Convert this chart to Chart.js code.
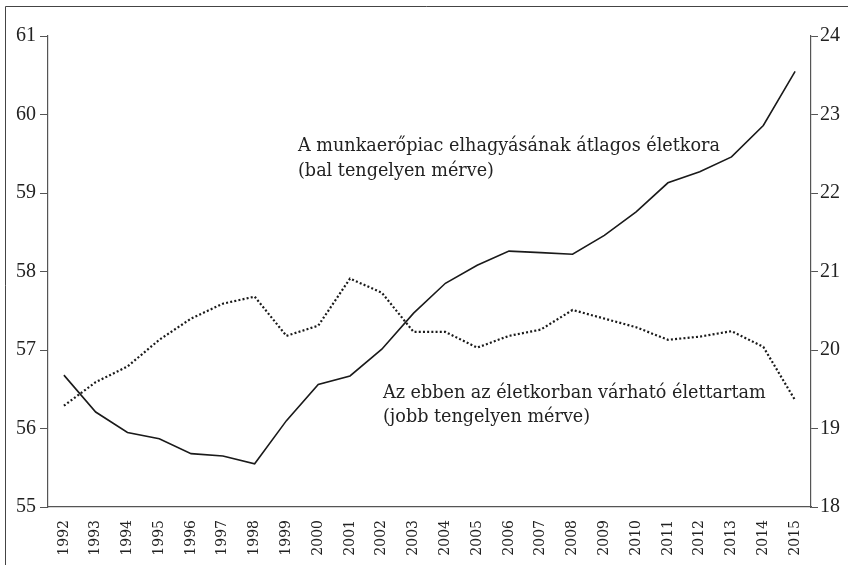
<!DOCTYPE html>
<html>
<head>
<meta charset="utf-8">
<script src="https://cdn.jsdelivr.net/npm/chart.js@4"></script>
<style>
  html, body { margin: 0; padding: 0; background: #fff; }
  canvas { display: block; }
</style>
</head>
<body>
<canvas id="chart" width="848" height="565"></canvas>
<script>
const years = ["1992", "1993", "1994", "1995", "1996", "1997", "1998", "1999", "2000", "2001", "2002", "2003",
  "2004", "2005", "2006", "2007", "2008", "2009", "2010", "2011", "2012", "2013", "2014", "2015"];

// átlagos életkor a munkaerőpiac elhagyásakor (bal tengely)
const exitAge = [56.68, 56.21, 55.95, 55.87, 55.68, 55.65, 55.55, 56.10, 56.56, 56.67, 57.01, 57.47,
  57.85, 58.08, 58.26, 58.24, 58.22, 58.46, 58.76, 59.13, 59.27, 59.46, 59.86, 60.55];

// várható élettartam ebben az életkorban (jobb tengely)
const lifeExp = [19.29, 19.59, 19.79, 20.13, 20.40, 20.59, 20.68, 20.18, 20.31, 20.91, 20.73, 20.23,
  20.23, 20.03, 20.18, 20.26, 20.51, 20.40, 20.29, 20.13, 20.17, 20.24, 20.04, 19.36];

const leftTicks = [55, 56, 57, 58, 59, 60, 61];
const rightTicks = [18, 19, 20, 21, 22, 23, 24];

const serif = "'DejaVu Serif', serif";
const axisColor = "#555";
const textColor = "#222";

const frameAndNotes = {
  id: "frameAndNotes",
  beforeDraw(chart) {
    const { ctx } = chart;
    ctx.save();
    ctx.strokeStyle = "#444";
    ctx.lineWidth = 1;
    ctx.beginPath();
    ctx.moveTo(5.5, 565);
    ctx.lineTo(5.5, 6.5);
    ctx.lineTo(848, 6.5);
    ctx.stroke();
    ctx.restore();
  },
  afterDraw(chart) {
    const { ctx } = chart;
    ctx.save();
    ctx.fillStyle = textColor;
    ctx.font = "17.6px " + serif;
    ctx.textBaseline = "middle";
    ctx.textAlign = "left";
    ctx.fillText("A munkaerőpiac elhagyásának átlagos életkora", 298, 146);
    ctx.fillText("(bal tengelyen mérve)", 298, 171);
    ctx.fillText("Az ebben az életkorban várható élettartam", 383, 393);
    ctx.fillText("(jobb tengelyen mérve)", 383, 417);
    ctx.restore();
  },
};

new Chart(document.getElementById("chart"), {
  type: "line",
  data: {
    labels: years,
    datasets: [
      {
        label: "A munkaerőpiac elhagyásának átlagos életkora",
        data: exitAge,
        yAxisID: "y",
        borderColor: "#1a1a1a",
        borderWidth: 1.6,
        pointRadius: 0,
        tension: 0,
      },
      {
        label: "Az ebben az életkorban várható élettartam",
        data: lifeExp,
        yAxisID: "y1",
        borderColor: "#1a1a1a",
        borderWidth: 2.2,
        borderDash: [2, 2.2],
        pointRadius: 0,
        tension: 0,
      },
    ],
  },
  options: {
    responsive: false,
    animation: false,
    layout: { padding: { top: 36, left: 0, right: 0, bottom: 0 } },
    plugins: {
      legend: { display: false },
      tooltip: { enabled: false },
    },
    scales: {
      x: {
        offset: true,
        grid: { display: false },
        border: { display: true, color: axisColor, width: 1.2 },
        ticks: {
          color: textColor,
          font: { family: serif, size: 14 },
          minRotation: 90,
          maxRotation: 90,
          padding: 5,
          autoSkip: false,
        },
        afterFit: (scale) => { scale.height = 58; },
      },
      y: {
        position: "left",
        min: 55,
        max: 61,
        grid: { drawOnChartArea: false, drawTicks: true, tickLength: 8, color: axisColor },
        border: { display: true, color: axisColor, width: 1.2 },
        afterBuildTicks: (scale) => { scale.ticks = leftTicks.map((v) => ({ value: v })); },
        ticks: {
          color: textColor,
          font: { family: "'Liberation Serif', serif", size: 20 },
          padding: 4,
        },
        afterFit: (scale) => { scale.width = 48; },
      },
      y1: {
        position: "right",
        min: 18,
        max: 24,
        grid: { drawOnChartArea: false, drawTicks: true, tickLength: 7, color: axisColor },
        border: { display: true, color: axisColor, width: 1.2 },
        afterBuildTicks: (scale) => { scale.ticks = rightTicks.map((v) => ({ value: v })); },
        ticks: {
          color: textColor,
          font: { family: "'Liberation Serif', serif", size: 20 },
          padding: 2,
        },
        afterFit: (scale) => { scale.width = 37; },
      },
    },
  },
  plugins: [frameAndNotes],
});
</script>
</body>
</html>
